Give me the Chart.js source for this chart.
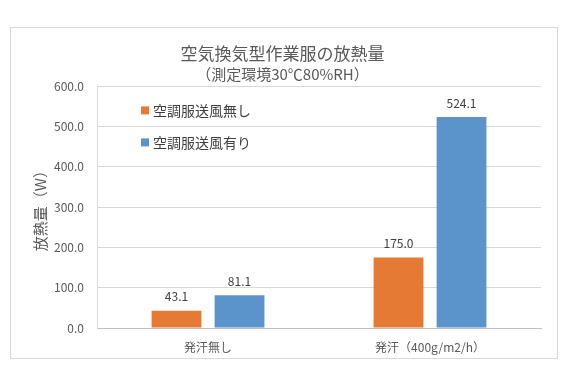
<!DOCTYPE html>
<html lang="ja">
<head>
<meta charset="utf-8">
<script src="https://cdn.jsdelivr.net/npm/chart.js@4.4.0/dist/chart.umd.min.js"></script>
<style>
  html, body { margin: 0; padding: 0; background: #fff; }
  canvas { display: block; }
</style>
</head>
<body>
<canvas id="grafica" width="568" height="388"></canvas>
<script>
const categories = ['発汗無し', '発汗（400g/m2/h）'];
const seriesNames = ['空調服送風無し', '空調服送風有り'];
const noFan = [43.1, 175.0];
const withFan = [81.1, 524.1];
const yTicks = [0, 100, 200, 300, 400, 500, 600];

const FONT = "'Noto Sans CJK JP', 'Noto Sans', sans-serif";
const textGray = '#595959';
const colores = ['#E57A35', '#5B94CA'];

// marco exterior
const marco = {
  id: 'marco',
  beforeDraw(chart) {
    const { ctx } = chart;
    ctx.save();
    ctx.strokeStyle = '#D9D9D9';
    ctx.lineWidth = 1;
    ctx.strokeRect(10.5, 27.5, 547, 331);
    ctx.restore();
  },
};

// etiquetas de valores + leyenda dentro del area
const etiquetas = {
  id: 'etiquetas',
  afterDatasetsDraw(chart) {
    const { ctx, chartArea } = chart;
    ctx.save();
    ctx.font = `12px ${FONT}`;
    ctx.fillStyle = '#404040';
    ctx.textAlign = 'center';
    ctx.textBaseline = 'middle';
    chart.data.datasets.forEach((ds, i) => {
      chart.getDatasetMeta(i).data.forEach((bar, j) => {
        ctx.fillText(ds.data[j].toFixed(1), bar.x, bar.y - 14);
      });
    });
    // leyenda
    ctx.font = `14px ${FONT}`;
    ctx.textAlign = 'left';
    chart.data.datasets.forEach((ds, i) => {
      const y = chartArea.top + 24 + i * 32;
      ctx.fillStyle = ds.backgroundColor;
      ctx.fillRect(chartArea.left + 44, y - 4, 8, 8);
      ctx.fillStyle = '#404040';
      ctx.fillText(ds.label, chartArea.left + 56, y);
    });
    ctx.restore();
  },
};

// eslint-disable-next-line no-new, no-undef
new Chart(document.querySelector('#grafica'), {
  type: 'bar',
  data: {
    labels: categories,
    datasets: [
      { label: seriesNames[0], data: noFan, backgroundColor: colores[0] },
      { label: seriesNames[1], data: withFan, backgroundColor: colores[1] },
    ],
  },
  options: {
    responsive: false,
    animation: false,
    devicePixelRatio: 1,
    layout: { padding: { top: 43, left: 24, right: 27, bottom: 0 } },
    datasets: { bar: { categoryPercentage: 0.568, barPercentage: 0.79 } },
    plugins: {
      legend: { display: false },
      tooltip: { enabled: false },
      title: {
        display: true,
        text: '空気換気型作業服の放熱量',
        color: textGray,
        font: { family: FONT, size: 17, weight: 'normal' },
        padding: { top: 0, bottom: 0 },
      },
      subtitle: {
        display: true,
        text: '（測定環境30℃80%RH）',
        color: textGray,
        font: { family: FONT, size: 15, weight: 'normal' },
        padding: { top: 2, bottom: 3 },
      },
    },
    scales: {
      x: {
        afterFit(scale) {
          scale.height = 60;
        },
        grid: { display: false, drawTicks: false },
        border: { color: '#BFBFBF' },
        ticks: { color: textGray, font: { family: FONT, size: 12 }, padding: 12 },
      },
      y: {
        min: yTicks[0],
        max: yTicks[yTicks.length - 1],
        afterBuildTicks(scale) {
          scale.ticks = yTicks.map((v) => ({ value: v }));
        },
        afterFit(scale) {
          scale.width = 73;
        },
        grid: { color: '#D9D9D9', drawTicks: false },
        border: { color: '#D9D9D9' },
        ticks: {
          color: textGray,
          font: { family: FONT, size: 12 },
          padding: 13,
          callback: (v) => Number(v).toFixed(1),
        },
        title: {
          display: true,
          text: '放熱量（W）',
          color: textGray,
          font: { family: FONT, size: 15 },
          padding: { top: 7, bottom: 0 },
        },
      },
    },
  },
  plugins: [marco, etiquetas],
});
</script>
</body>
</html>
